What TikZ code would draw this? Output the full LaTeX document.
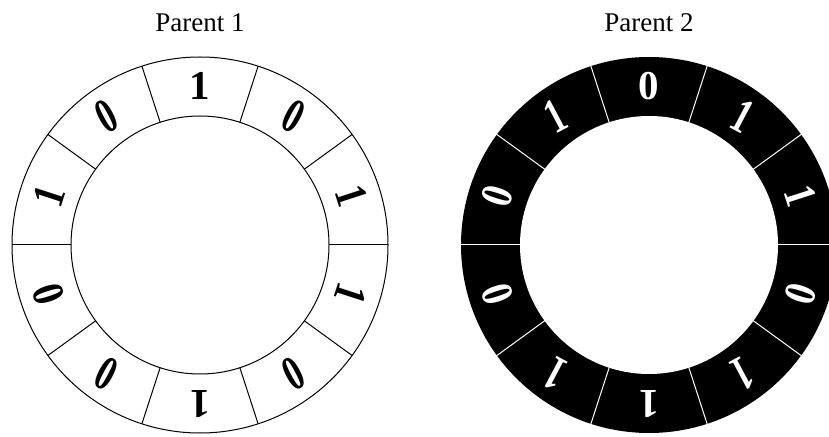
\documentclass[tikz,border=0pt]{standalone}
\usepackage{fontspec}
\setmainfont{Liberation Serif}
\usepackage{tikz}
\usetikzlibrary{calc}

\begin{document}
\begin{tikzpicture}[x=1pt, y=1pt, line width=1pt,
  titre/.style={font=\fontsize{27}{30}\selectfont, anchor=base, inner sep=0pt},
  chiffre/.style={font=\fontsize{41}{41}\selectfont\bfseries, inner sep=0pt}]
\useasboundingbox (0,0) rectangle (829,436);
\clip (0,0) rectangle (829,436);
% Titres
\node[titre] (titre1) at (200,404) {Parent 1};
\node[titre] (titre2) at (649,404) {Parent 2};
% Anneau du parent 1
\coordinate (c1) at (200,191);
\draw (c1) circle (188pt);
\draw (c1) circle (129pt);
\foreach \a in {0,36,...,324}
  \draw ($(c1)+(\a:129pt)$) -- ($(c1)+(\a:188pt)$);
% chiffre / rotation / etirement
\foreach \b/\r/\s [count=\i] in {1/0/1, 0/28/1.2, 1/72/1.1, 0/108/1.1, 0/152/1.2,
                                 1/180/1, 0/208/1.2, 1/252/1.1, 1/288/1.1, 0/332/1.2}
  \node[chiffre, rotate=\r, yscale=\s, xscale=1/\s] (p1-\i)
    at ($(c1)+({90+36*(\i-1)}:159pt)$) {\b};
% Anneau du parent 2 (noir)
\coordinate (c2) at (649,191);
\fill[black] (c2) circle (188pt);
\fill[white] (c2) circle (129pt);
\foreach \a in {0,36,...,324}
  \draw[white] ($(c2)+(\a:128pt)$) -- ($(c2)+(\a:189pt)$);
\foreach \b/\r/\s [count=\i] in {0/0/1, 1/28/1.2, 0/72/1.1, 0/108/1.1, 1/152/1.2,
                                 1/180/1, 1/208/1.2, 0/252/1.1, 1/288/1.1, 1/332/1.2}
  \node[chiffre, white, rotate=\r, yscale=\s, xscale=1/\s] (p2-\i)
    at ($(c2)+({90+36*(\i-1)}:159pt)$) {\b};
\end{tikzpicture}
\end{document}
